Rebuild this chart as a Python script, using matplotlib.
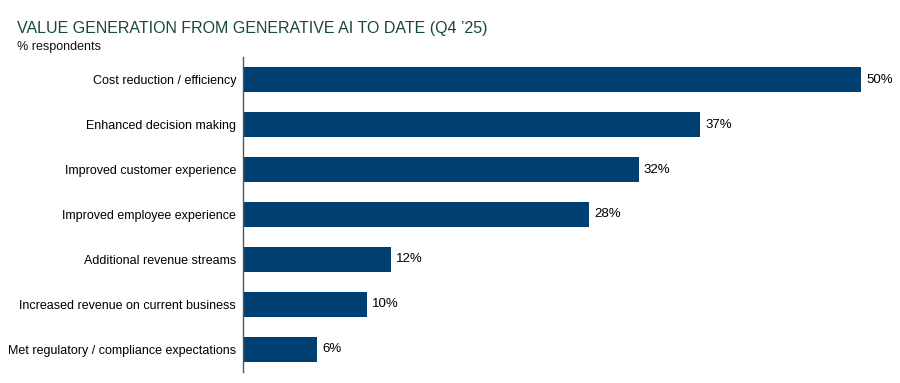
import matplotlib
matplotlib.use("Agg")
import matplotlib.pyplot as plt

categories = [
    "Cost reduction / efficiency",
    "Enhanced decision making",
    "Improved customer experience",
    "Improved employee experience",
    "Additional revenue streams",
    "Increased revenue on current business",
    "Met regulatory / compliance expectations",
]
values = [50, 37, 32, 28, 12, 10, 6]

plt.rcParams['font.family'] = ['Liberation Sans', 'DejaVu Sans']

fig = plt.figure(figsize=(9, 3.83), dpi=100)
ax = fig.add_axes([0.27, 0.029, 0.9567 - 0.27, 0.822])

y = list(range(len(categories)))
ax.barh(y, values, height=0.54, color="#003f72")
ax.set_ylim(len(categories) - 0.5, -0.5)
ax.set_xlim(0, 50)

for yi, v in zip(y, values):
    ax.text(v + 0.4, yi, f"{v}%", va="center", ha="left", fontsize=9.5, clip_on=False)

ax.set_yticks(y)
ax.set_yticklabels(categories, fontsize=9)
ax.tick_params(axis="y", length=0, pad=5)
ax.set_xticks([])
for s in ["top", "right", "bottom"]:
    ax.spines[s].set_visible(False)
ax.spines["left"].set_color("#555555")
ax.spines["left"].set_linewidth(1)

fig.text(0.019, 0.925, "VALUE GENERATION FROM GENERATIVE AI TO DATE (Q4 \u201925)",
         fontsize=11.5, color="#1a4a2e", va="center", ha="left")
fig.text(0.019, 0.878, "% respondents", fontsize=9, color="#111111", va="center", ha="left")

fig.savefig("out.png", dpi=100)
